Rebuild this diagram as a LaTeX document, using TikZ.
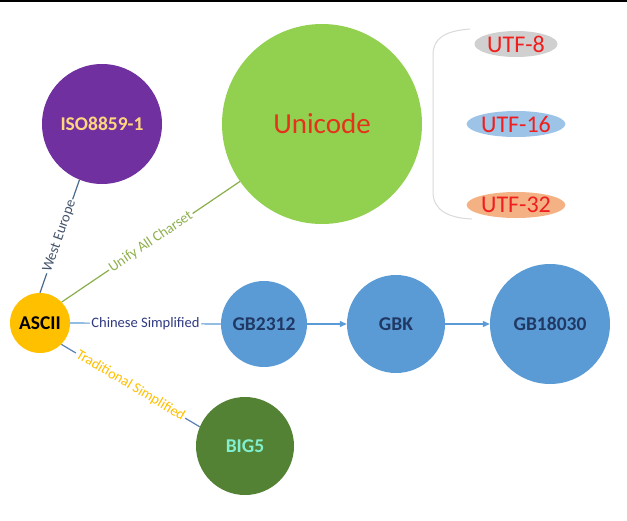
\documentclass[tikz,border=0pt]{standalone}
\usepackage{fontspec}
\setmainfont{Carlito}
\usetikzlibrary{arrows.meta,shapes.geometric}
\definecolor{isoPurple}{HTML}{7030A0}
\definecolor{isoText}{HTML}{FFD580}
\definecolor{uniGreen}{HTML}{92D050}
\definecolor{uniText}{HTML}{E5321A}
\definecolor{asciiYellow}{HTML}{FFC000}
\definecolor{gbBlue}{HTML}{5B9BD5}
\definecolor{gbText}{HTML}{1F3864}
\definecolor{bigGreen}{HTML}{548235}
\definecolor{bigText}{HTML}{80F0D0}
\definecolor{westLine}{HTML}{4A6A8A}
\definecolor{westText}{HTML}{44546A}
\definecolor{unifyLine}{HTML}{8AAE4A}
\definecolor{unifyText}{HTML}{8FB04E}
\definecolor{chnText}{HTML}{2F3A80}
\definecolor{tradLine}{HTML}{5B7FB5}
\definecolor{utfRed}{HTML}{F01E1E}
\definecolor{utfGray}{HTML}{D0D0D0}
\definecolor{utfBlue}{HTML}{9DC3E6}
\definecolor{utfOrange}{HTML}{F4B183}
\definecolor{braceGray}{HTML}{DADADA}
\tikzset{
  ball/.style={circle,inner sep=0pt,font=\fontsize{19.5}{22}\selectfont\bfseries},
  utf/.style={ellipse,inner sep=0pt,minimum width=83pt,minimum height=26pt,text=utfRed,font=\fontsize{24}{26}\selectfont},
  lbl/.style={midway,sloped,fill=white,inner sep=1.5pt,font=\fontsize{14.5}{16}\selectfont},
  link/.style={line width=1.2pt},
  arr/.style={line width=1.2pt,draw=gbBlue,-{Triangle[length=7pt,width=6pt]}}
}
\begin{document}
\begin{tikzpicture}[x=1pt,y=-1pt]
\useasboundingbox (0,0) rectangle (627,520);
\fill[white] (0,0) rectangle (627,520);
\fill[black] (0,0) rectangle (627,1.5);
% nodes
\node[ball,fill=isoPurple,text=isoText,minimum size=120pt] (iso) at (102,124) {ISO8859-1};
\node[circle,inner sep=0pt,fill=uniGreen,text=uniText,minimum size=200pt,font=\fontsize{29}{32}\selectfont] (uni) at (322,124) {Unicode};
\node[ball,fill=asciiYellow,text=black,minimum size=60pt] (ascii) at (40,323) {ASCII};
\node[ball,fill=gbBlue,text=gbText,minimum size=86pt] (gb2312) at (264,324) {GB2312};
\node[ball,fill=gbBlue,text=gbText,minimum size=98pt] (gbk) at (396,324) {GBK};
\node[ball,fill=gbBlue,text=gbText,minimum size=120pt] (gb18030) at (550,324) {GB18030};
\node[ball,fill=bigGreen,text=bigText,minimum size=98pt] (big5) at (245,446) {BIG5};
\node[utf,fill=utfGray] (utf8) at (516,44) {UTF-8};
\node[utf,fill=utfBlue] (utf16) at (516,124) {UTF-16};
\node[utf,fill=utfOrange] (utf32) at (516,205) {UTF-32};
% brace
\coordinate (bt) at (470,29);
\coordinate (bb) at (472,219);
\draw[braceGray,line width=1pt] (bt) .. controls (445,31) and (433,38) .. (433,55) -- (433,192) .. controls (433,210) and (448,218) .. (bb);
% connectors
\draw[link,westLine] (ascii.90) -- node[lbl,text=westText]{West Europe} (iso.248);
\draw[link,unifyLine] (ascii.44) -- node[lbl,text=unifyText]{Unify All Charset} (uni.215);
\draw[link,gbBlue] (ascii.east) -- node[lbl,text=chnText]{Chinese Simplified} (gb2312.west);
\draw[link,tradLine] (ascii.-45) -- node[lbl,text=asciiYellow]{Traditional Simplified} (big5.157);
\draw[arr] (gb2312.east) -- (gbk.west);
\draw[arr] (gbk.east) -- (gb18030.west);
\end{tikzpicture}
\end{document}
